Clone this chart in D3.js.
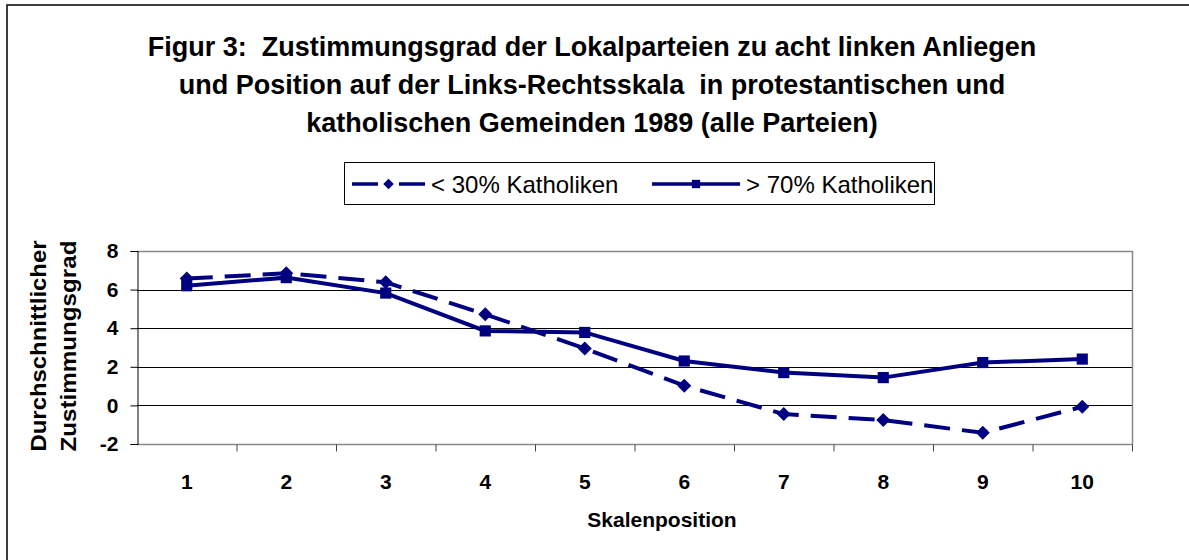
<!DOCTYPE html>
<html>
<head>
<meta charset="utf-8">
<script src="https://cdn.jsdelivr.net/npm/d3@7"></script>
<style>
  body { margin: 0; background: #fff; }
  text { font-family: "Liberation Sans", Arial, sans-serif; white-space: pre; }
</style>
</head>
<body>
<svg width="1189" height="560"></svg>
<script>
// data
const positions = ['1', '2', '3', '4', '5', '6', '7', '8', '9', '10'];
const protestant = [6.57, 6.85, 6.38, 4.72, 2.95, 1.02, -0.45, -0.76, -1.42, -0.07];
const catholic = [6.2, 6.62, 5.82, 3.86, 3.78, 2.3, 1.7, 1.44, 2.22, 2.4];
const yTicks = [-2, 0, 2, 4, 6, 8];
const seriesNames = ['< 30% Katholiken', '> 70% Katholiken'];
const titleLines = [
  'Figur 3:  Zustimmungsgrad der Lokalparteien zu acht linken Anliegen',
  'und Position auf der Links-Rechtsskala  in protestantischen und',
  'katholischen Gemeinden 1989 (alle Parteien)'
];
const yTitleLines = ['Durchschnittlicher', 'Zustimmungsgrad'];

const svg = d3.select('svg');
const navy = '#000080';
const margin = { top: 251, left: 137, right: 1132, bottom: 444 };

// outer frame (runs off the canvas at right and bottom)
svg.append('rect')
   .attr('x', 7).attr('y', 5)
   .attr('width', 1300).attr('height', 700)
   .attr('fill', 'none').attr('stroke', '#000').attr('stroke-width', 1.5);

// title
svg.append('g').selectAll('text').data(titleLines)
   .enter().append('text')
     .attr('x', 592)
     .attr('y', (d, i) => 56 + i * 38)
     .attr('text-anchor', 'middle')
     .attr('font-size', 27).attr('font-weight', 'bold')
     .text(d => d);

const xScale = d3.scaleBand()
                 .domain(positions)
                 .range([margin.left, margin.right]);
const xEdges = d3.scaleLinear().domain([0, positions.length]).range([margin.left, margin.right]);
const yScale = d3.scaleLinear().domain([-2, 8]).range([margin.bottom, margin.top]);
const xMid = d => xScale(d) + xScale.bandwidth() / 2;

// gridlines
svg.append('g').selectAll('line').data(yTicks.slice(1, -1))
   .enter().append('line')
     .attr('x1', margin.left).attr('x2', margin.right)
     .attr('y1', d => Math.round(yScale(d)) + 0.5).attr('y2', d => Math.round(yScale(d)) + 0.5)
     .attr('stroke', '#000').attr('stroke-width', 1);

// plot border (gray)
svg.append('path')
   .attr('d', `M${margin.left},${margin.top + 0.5}H${margin.right + 0.5}V${margin.bottom + 0.5}H${margin.left}`)
   .attr('fill', 'none').attr('stroke', '#888').attr('stroke-width', 1.5);

// y axis
const yAxis = d3.axisLeft(yScale).tickValues(yTicks).tickSize(7).tickPadding(12).tickFormat(d => String(d));
const gy = svg.append('g').attr('transform', `translate(${margin.left + 0.5},0)`).call(yAxis);
gy.select('.domain').attr('stroke', '#000');
gy.selectAll('.tick line').attr('stroke', '#000');
gy.selectAll('.tick text')
  .attr('font-size', 21).attr('font-weight', 'bold')
  .attr('font-family', '"Liberation Sans", Arial, sans-serif').attr('fill', '#000');

// x axis ticks at category edges
const xAxis = d3.axisBottom(xEdges).tickValues(d3.range(1, positions.length + 1)).tickSize(7).tickFormat('');
const gx = svg.append('g').attr('transform', `translate(0,${margin.bottom + 0.5})`).call(xAxis);
gx.select('.domain').remove();
gx.selectAll('.tick line').attr('stroke', '#444');

// x labels
const xLab = d3.axisBottom(xScale).tickSize(0).tickPadding(30);
const gxl = svg.append('g').attr('transform', `translate(0,${margin.bottom})`).call(xLab);
gxl.select('.domain').remove();
gxl.selectAll('.tick text')
   .attr('font-size', 21).attr('font-weight', 'bold')
   .attr('font-family', '"Liberation Sans", Arial, sans-serif').attr('fill', '#000');

// axis titles
svg.append('text')
   .attr('x', 662).attr('y', 527)
   .attr('text-anchor', 'middle')
   .attr('font-size', 21).attr('font-weight', 'bold')
   .text('Skalenposition');

svg.append('g').selectAll('text').data(yTitleLines)
   .enter().append('text')
     .attr('transform', (d, i) => `translate(${46 + i * 30},346) rotate(-90)`)
     .attr('text-anchor', 'middle')
     .attr('font-size', 22).attr('font-weight', 'bold')
     .attr('textLength', 211).attr('lengthAdjust', 'spacingAndGlyphs')
     .text(d => d);

// lines
const line = d3.line().x((d, i) => xMid(positions[i])).y(d => yScale(d));

svg.append('path').datum(protestant)
   .attr('d', line).attr('fill', 'none')
   .attr('stroke', navy).attr('stroke-width', 4)
   .attr('stroke-dasharray', '26,12');

svg.append('path').datum(catholic)
   .attr('d', line).attr('fill', 'none')
   .attr('stroke', navy).attr('stroke-width', 4);

const diamond = d3.symbol().type(d3.symbolDiamond2).size(125);
const square = d3.symbol().type(d3.symbolSquare).size(125);

svg.append('g').selectAll('path').data(protestant)
   .enter().append('path')
     .attr('d', diamond)
     .attr('transform', (d, i) => `translate(${xMid(positions[i])},${yScale(d)})`)
     .attr('fill', navy);

svg.append('g').selectAll('path').data(catholic)
   .enter().append('path')
     .attr('d', square)
     .attr('transform', (d, i) => `translate(${xMid(positions[i])},${yScale(d)})`)
     .attr('fill', navy);

// legend
const legend = svg.append('g');
legend.append('rect')
      .attr('x', 344.5).attr('y', 162.5).attr('width', 590).attr('height', 42)
      .attr('fill', '#fff').attr('stroke', '#000').attr('stroke-width', 1);

const legendItems = [
  { x0: 352, x1: 425, name: seriesNames[0], sym: d3.symbol().type(d3.symbolDiamond2).size(70), dash: '26,21' },
  { x0: 652, x1: 740, name: seriesNames[1], sym: d3.symbol().type(d3.symbolSquare).size(70), dash: null }
];
legendItems.forEach(it => {
  legend.append('line')
        .attr('x1', it.x0).attr('x2', it.x1).attr('y1', 184).attr('y2', 184)
        .attr('stroke', navy).attr('stroke-width', 3.5)
        .attr('stroke-dasharray', it.dash);
  legend.append('path')
        .attr('d', it.sym)
        .attr('transform', `translate(${(it.x0 + it.x1) / 2},184)`)
        .attr('fill', navy);
  legend.append('text')
        .attr('x', it.x1 + 6).attr('y', 193)
        .attr('font-size', 24)
        .text(it.name);
});
</script>
</body>
</html>
